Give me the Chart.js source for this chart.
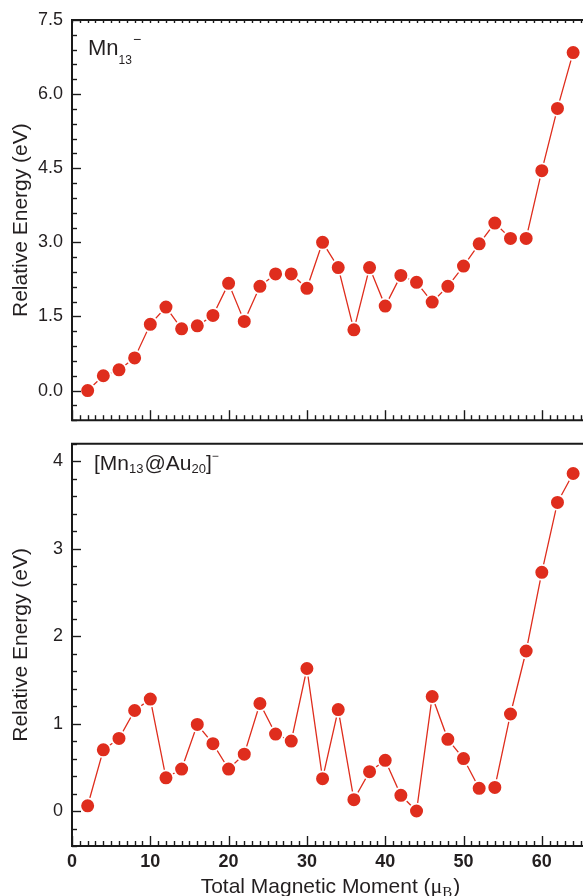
<!DOCTYPE html>
<html><head><meta charset="utf-8">
<script src="https://cdn.jsdelivr.net/npm/chart.js@4.4.0/dist/chart.umd.min.js"></script>
<style>
html,body{margin:0;padding:0;background:#fff;width:583px;height:896px;overflow:hidden}
#c1{position:absolute;left:0;top:0}
#c2{position:absolute;left:0;top:424px}
</style></head><body>
<canvas id="c1" width="583" height="440"></canvas>
<canvas id="c2" width="583" height="472"></canvas>
<script>
// ---- data ----
const moments = [2,4,6,8,10,12,14,16,18,20,22,24,26,28,30,32,34,36,38,40,42,44,46,48,50,52,54,56,58,60,62,64];
const energyMn13 = [0.00,0.30,0.42,0.66,1.34,1.69,1.25,1.31,1.52,2.17,1.40,2.11,2.36,2.36,2.07,3.00,2.49,1.23,2.49,1.71,2.33,2.19,1.79,2.11,2.52,2.97,3.39,3.08,3.08,4.45,5.71,6.84];
const energyMn13Au20 = [0.06,0.70,0.83,1.15,1.28,0.38,0.48,0.99,0.77,0.48,0.65,1.23,0.88,0.80,1.63,0.37,1.16,0.13,0.45,0.58,0.18,0.00,1.31,0.82,0.60,0.26,0.27,1.11,1.83,2.73,3.53,3.86];
const xTicks = [0,10,20,30,40,50,60];
const yTicksTop = [0,1.5,3.0,4.5,6.0,7.5];
const yTicksBottom = [0,1,2,3,4];

const RED = '#df2d1d';
const INK = '#231f20';
const FONT = "'Liberation Sans', Arial, Helvetica, sans-serif";
const SERIF = "'Liberation Serif', 'Times New Roman', serif";

function pts(ys){ return moments.map((m,i)=>({x:m,y:ys[i]})); }

function drawRich(ctx, x, y, parts){
  let cx = x;
  for (const p of parts){
    ctx.font = p.font;
    ctx.fillStyle = INK;
    ctx.textBaseline = 'alphabetic';
    ctx.textAlign = 'left';
    const px = (p.x !== undefined) ? p.x : cx;
    ctx.fillText(p.t, px, y + (p.dy||0));
    cx = px + ctx.measureText(p.t).width + (p.gap||0);
  }
  return cx;
}

function framePlugin(cfg){
  return {
    id:'frame',
    afterDraw(chart){
      const ctx = chart.ctx;
      const {left,right,top,bottom} = chart.chartArea;
      const xs = chart.scales.x, ys = chart.scales.y;
      ctx.save();
      ctx.strokeStyle = '#1a1a1a';
      ctx.lineCap = 'butt';
      ctx.lineWidth = 1.4;
      // y ticks (inward)
      const n0 = Math.ceil(ys.min/cfg.yMinor - 1e-6), n1 = Math.floor(ys.max/cfg.yMinor + 1e-6);
      for (let k=n0;k<=n1;k++){
        const v = k*cfg.yMinor;
        const major = cfg.yMajor.some(m=>Math.abs(m-v)<1e-6);
        const py = Math.round(ys.getPixelForValue(v))+0.5;
        ctx.beginPath(); ctx.moveTo(left, py); ctx.lineTo(left + (major?9:5), py); ctx.stroke();
      }
      // x ticks (inward)
      for (let k=0;k<=Math.floor(xs.max);k++){
        const major = k%10===0;
        const px = Math.round(xs.getPixelForValue(k))+0.5;
        const len = major?10:5;
        ctx.beginPath(); ctx.moveTo(px, bottom); ctx.lineTo(px, bottom-len); ctx.stroke();
        if (cfg.topTicks){
          ctx.beginPath(); ctx.moveTo(px, top); ctx.lineTo(px, top+3); ctx.stroke();
        }
      }
      // frame
      ctx.lineWidth = 2;
      ctx.beginPath();
      ctx.moveTo(right+2, top); ctx.lineTo(left, top); ctx.lineTo(left, bottom); ctx.lineTo(right+2, bottom);
      ctx.stroke();
      ctx.restore();
      ctx.save();
      cfg.label(ctx, chart);
      ctx.restore();
    }
  };
}

function makeChart(id, data, yMin, yMax, yMajor, yMinor, fmt, showX, padTop, padBottom, topTicks, label){
  const ctx = document.getElementById(id).getContext('2d');
  return new Chart(ctx, {
    type:'line',
    data:{datasets:[{
      data: pts(data),
      borderColor: RED,
      borderWidth: 1.3,
      backgroundColor: RED,
      pointBackgroundColor: RED,
      pointBorderColor: '#ffffff',
      pointBorderWidth: 1.8,
      pointRadius: 7.4,
      pointHoverRadius: 7.4,
      tension: 0,
      clip: false
    }]},
    options:{
      responsive:false, animation:false, devicePixelRatio:1,
      layout:{autoPadding:false, padding:{top:padTop,bottom:padBottom,left:0,right:0}},
      plugins:{legend:{display:false},tooltip:{enabled:false}},
      scales:{
        x:{
          type:'linear', min:0, max:65.26,
          display: showX,
          grid:{display:false, drawTicks:false},
          border:{display:false},
          afterBuildTicks(s){ s.ticks = xTicks.map(v=>({value:v})); },
          afterFit(s){ if (showX) s.height = 50; },
          ticks:{padding:5, color:INK, font:{family:FONT, size:18, weight:'bold'}, maxRotation:0, autoSkip:false},
          title:{display:false}
        },
        y:{
          type:'linear', min:yMin, max:yMax,
          grid:{display:false, drawTicks:false},
          border:{display:false},
          afterBuildTicks(s){ s.ticks = yMajor.map(v=>({value:v})); },
          afterFit(s){ s.width = 72; },
          ticks:{padding:9, color:INK, font:{family:FONT, size:18}, callback:fmt, autoSkip:false},
          title:{display:true, text:'Relative Energy (eV)', color:INK, font:{family:FONT, size:21}, padding:{top:9,bottom:0}}
        }
      }
    },
    plugins:[framePlugin({yMajor, yMinor, label, topTicks})]
  });
}

makeChart('c1', energyMn13, -0.6, 7.5, yTicksTop, 0.3, v=>Number(v).toFixed(1), false, 20, 8, true,
  (ctx)=>{
    drawRich(ctx, 88, 55, [
      {t:'Mn', font:`22px ${FONT}`},
      {t:'13', font:`12px ${FONT}`, dy:9},
    ]);
    drawRich(ctx, 0, 44, [{t:'\u2212', font:`14px ${FONT}`, x:133}]);
  });

makeChart('c2', energyMn13Au20, -0.4, 4.2, yTicksBottom, 0.2, v=>String(v), true, 8, 0, false,
  (ctx, chart)=>{
    const y0 = 470-424;
    let cx = drawRich(ctx, 94, y0, [
      {t:'[Mn', font:`21px ${FONT}`},
      {t:'13', font:`13px ${FONT}`, dy:3, gap:1},
      {t:'@Au', font:`21px ${FONT}`},
      {t:'20', font:`13px ${FONT}`, dy:3},
      {t:']', font:`21px ${FONT}`}
    ]);
    drawRich(ctx, 0, y0-10, [{t:'\u2212', font:`12px ${FONT}`, x:cx}]);
    // x axis title
    const {left,right} = chart.chartArea;
    const base = 893-424;
    const p1 = 'Total Magnetic Moment (';
    ctx.font = `21px ${FONT}`; const w1 = ctx.measureText(p1).width;
    ctx.font = `22px ${SERIF}`; const w2 = ctx.measureText('\u03bc').width;
    ctx.font = `15px ${SERIF}`; const w3 = ctx.measureText('B').width;
    ctx.font = `21px ${FONT}`; const w4 = ctx.measureText(')').width;
    const total = w1+w2+w3+w4+1;
    const sx = (left+right)/2 - total/2 + 3;
    drawRich(ctx, sx, base, [
      {t:p1, font:`21px ${FONT}`},
      {t:'\u03bc', font:`22px ${SERIF}`},
      {t:'B', font:`15px ${SERIF}`, dy:4, gap:1},
      {t:')', font:`21px ${FONT}`}
    ]);
  });
</script>
</body></html>
